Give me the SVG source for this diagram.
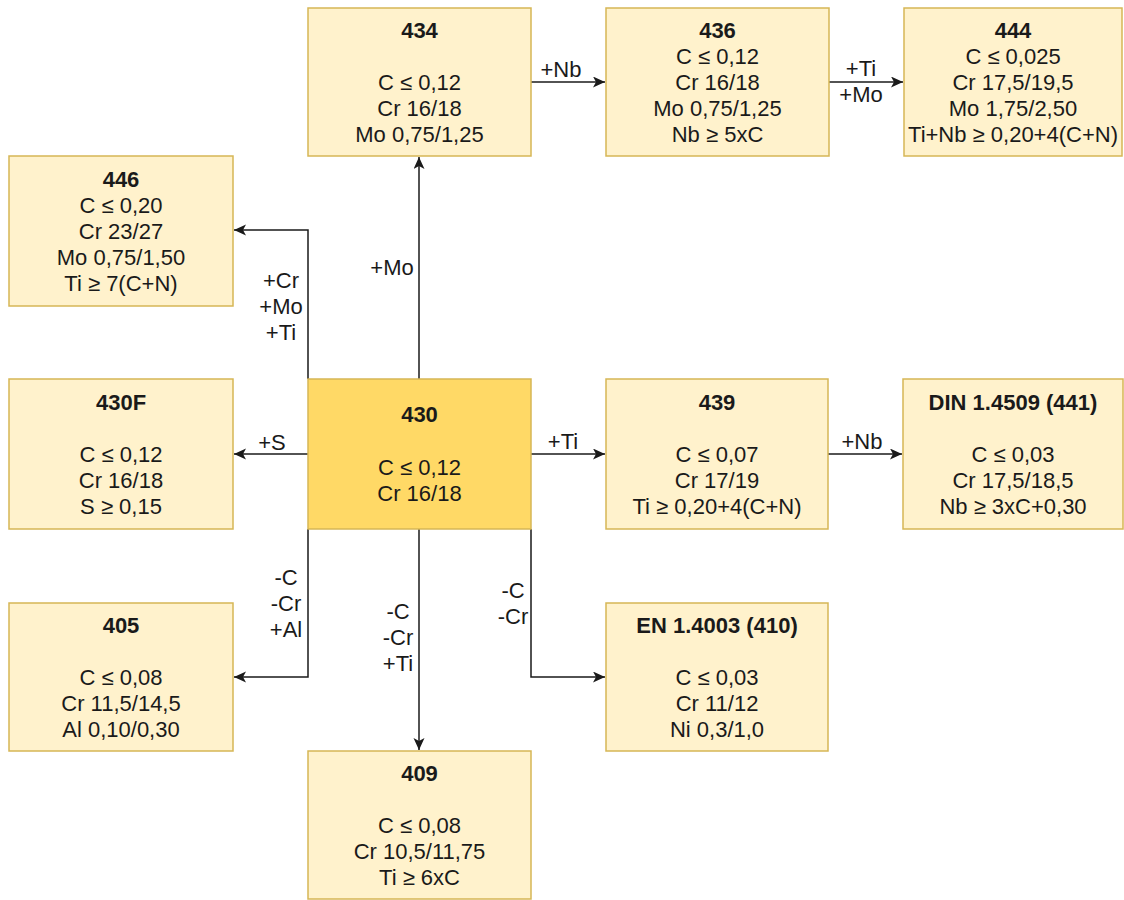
<svg xmlns="http://www.w3.org/2000/svg" width="1124" height="900" viewBox="0 0 1124 900">
<style>
.n{fill:#fff2cc;stroke:#d6b656;stroke-width:1.5}
.c{fill:#ffd966;stroke:#d6b656;stroke-width:1.5}
text{font-family:"Liberation Sans",Arial,sans-serif;font-size:22px;fill:#1a1a1a;text-anchor:middle}
.t{font-weight:bold}
.e{fill:none;stroke:#1a1a1a;stroke-width:1.5}
</style>
<defs>
<marker id="a" markerUnits="userSpaceOnUse" markerWidth="14" markerHeight="12" refX="12" refY="5.5" orient="auto">
<path d="M0,0 L12,5.5 L0,11 L3,5.5 z" fill="#1a1a1a"/>
</marker>
</defs>
<rect width="1124" height="900" fill="#ffffff"/>
<g id="connectors">
<path class="e" d="M419,379 V157" marker-end="url(#a)"/>
<path class="e" d="M531,82 H605" marker-end="url(#a)"/>
<path class="e" d="M829,82 H903" marker-end="url(#a)"/>
<path class="e" d="M308,379 V230 H234" marker-end="url(#a)"/>
<path class="e" d="M308,454 H234" marker-end="url(#a)"/>
<path class="e" d="M531,454 H605" marker-end="url(#a)"/>
<path class="e" d="M828,454 H902" marker-end="url(#a)"/>
<path class="e" d="M308,529 V677 H234" marker-end="url(#a)"/>
<path class="e" d="M419,529 V750" marker-end="url(#a)"/>
<path class="e" d="M531,529 V677 H605" marker-end="url(#a)"/>
<text x="392" y="275">+Mo</text>
<text x="561" y="77">+Nb</text>
<text x="861" y="76">+Ti</text>
<text x="861" y="102">+Mo</text>
<text x="281" y="288">+Cr</text>
<text x="281" y="314">+Mo</text>
<text x="281" y="340">+Ti</text>
<text x="272" y="450">+S</text>
<text x="563" y="449">+Ti</text>
<text x="862" y="449">+Nb</text>
<text x="286" y="585">-C</text>
<text x="286" y="611">-Cr</text>
<text x="286" y="637">+Al</text>
<text x="398" y="619">-C</text>
<text x="398" y="645">-Cr</text>
<text x="398" y="671">+Ti</text>
<text x="513" y="598">-C</text>
<text x="513" y="624">-Cr</text>
</g>
<g id="n434">
<rect class="n" x="308" y="8" width="223" height="148"/>
<text class="t" x="419.5" y="38">434</text>
<text x="419.5" y="90">C ≤ 0,12</text>
<text x="419.5" y="116">Cr 16/18</text>
<text x="419.5" y="142">Mo 0,75/1,25</text>
</g>
<g id="n436">
<rect class="n" x="606" y="8" width="223" height="148"/>
<text class="t" x="717.5" y="38">436</text>
<text x="717.5" y="64">C ≤ 0,12</text>
<text x="717.5" y="90">Cr 16/18</text>
<text x="717.5" y="116">Mo 0,75/1,25</text>
<text x="717.5" y="142">Nb ≥ 5xC</text>
</g>
<g id="n444">
<rect class="n" x="904" y="8" width="218" height="148"/>
<text class="t" x="1013" y="38">444</text>
<text x="1013" y="64">C ≤ 0,025</text>
<text x="1013" y="90">Cr 17,5/19,5</text>
<text x="1013" y="116">Mo 1,75/2,50</text>
<text x="1013" y="142">Ti+Nb ≥ 0,20+4(C+N)</text>
</g>
<g id="n446">
<rect class="n" x="9" y="156" width="224" height="150"/>
<text class="t" x="121" y="187">446</text>
<text x="121" y="213">C ≤ 0,20</text>
<text x="121" y="239">Cr 23/27</text>
<text x="121" y="265">Mo 0,75/1,50</text>
<text x="121" y="291">Ti ≥ 7(C+N)</text>
</g>
<g id="n430">
<rect class="c" x="308" y="379" width="223" height="150"/>
<text class="t" x="419.5" y="422">430</text>
<text x="419.5" y="475">C ≤ 0,12</text>
<text x="419.5" y="501">Cr 16/18</text>
</g>
<g id="n430F">
<rect class="n" x="9" y="379" width="224" height="150"/>
<text class="t" x="121" y="410">430F</text>
<text x="121" y="462">C ≤ 0,12</text>
<text x="121" y="488">Cr 16/18</text>
<text x="121" y="514">S ≥ 0,15</text>
</g>
<g id="n439">
<rect class="n" x="606" y="379" width="222" height="150"/>
<text class="t" x="717" y="410">439</text>
<text x="717" y="462">C ≤ 0,07</text>
<text x="717" y="488">Cr 17/19</text>
<text x="717" y="514">Ti ≥ 0,20+4(C+N)</text>
</g>
<g id="n441">
<rect class="n" x="903" y="379" width="220" height="150"/>
<text class="t" x="1013" y="410">DIN 1.4509 (441)</text>
<text x="1013" y="462">C ≤ 0,03</text>
<text x="1013" y="488">Cr 17,5/18,5</text>
<text x="1013" y="514">Nb ≥ 3xC+0,30</text>
</g>
<g id="n405">
<rect class="n" x="9" y="603" width="224" height="148"/>
<text class="t" x="121" y="633">405</text>
<text x="121" y="685">C ≤ 0,08</text>
<text x="121" y="711">Cr 11,5/14,5</text>
<text x="121" y="737">Al 0,10/0,30</text>
</g>
<g id="n410">
<rect class="n" x="606" y="603" width="222" height="148"/>
<text class="t" x="717" y="633">EN 1.4003 (410)</text>
<text x="717" y="685">C ≤ 0,03</text>
<text x="717" y="711">Cr 11/12</text>
<text x="717" y="737">Ni 0,3/1,0</text>
</g>
<g id="n409">
<rect class="n" x="308" y="751" width="223" height="148"/>
<text class="t" x="419.5" y="781">409</text>
<text x="419.5" y="833">C ≤ 0,08</text>
<text x="419.5" y="859">Cr 10,5/11,75</text>
<text x="419.5" y="885">Ti ≥ 6xC</text>
</g>
</svg>
